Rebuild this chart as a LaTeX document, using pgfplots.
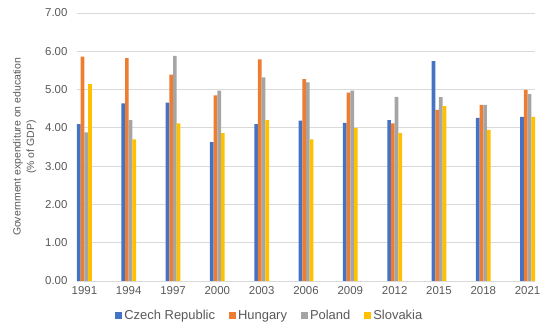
\documentclass[border=0pt]{standalone}
\usepackage{pgfplots}
\pgfplotsset{compat=1.18}
\usepackage{fontspec}
\setmainfont{Liberation Sans}
\definecolor{cz}{HTML}{4472C4}
\definecolor{hu}{HTML}{ED7D31}
\definecolor{pl}{HTML}{A5A5A5}
\definecolor{sk}{HTML}{FFC000}
\definecolor{txt}{HTML}{595959}
\definecolor{grd}{HTML}{D9D9D9}
\begin{document}
\begin{tikzpicture}
\begin{axis}[
  at={(0,0)}, anchor=south west,
  scale only axis, width=458bp, height=268bp,
  xmin=1990.5, xmax=2021.5, ymin=0, ymax=7,
  ybar, bar width=0.25,
  xtick={1991,1994,...,2021},
  ytick={0,1,...,7},
  /pgf/number format/assume math mode=true,
  xticklabel style={/pgf/number format/1000 sep={}, font=\fontsize{11.5}{13}\selectfont, text=txt, yshift=-2bp},
  yticklabel style={/pgf/number format/.cd, fixed, fixed zerofill, precision=2, /tikz/.cd, font=\fontsize{11.5}{13}\selectfont, text=txt, xshift=-6bp},
  ymajorgrids, grid style={grd, line width=0.8pt},
  axis x line*=bottom, axis y line*=left,
  x axis line style={grd, line width=0.8pt, -},
  y axis line style={draw=none},
  major tick length=0pt,
  xtick style={draw=none}, ytick style={draw=none},
  ylabel={Government expenditure on education\\(\% of GDP)},
  ylabel style={align=center, font=\fontsize{10.5}{13.5}\selectfont, text=txt, at={(ticklabel cs:0.5)}, yshift=2bp},
  legend style={at={(0.421,-0.13)}, anchor=center, draw=none, legend columns=4, font=\fontsize{13}{15}\selectfont, text=txt, /tikz/every even column/.append style={column sep=12bp}},
  legend image code/.code={\fill[#1] (0bp,-3.5bp) rectangle (7bp,3.5bp);},
  every axis plot/.append style={draw=none},
]
\addplot[fill=cz, bar shift=-0.375] coordinates {(1991,4.10) (1994,4.64) (1997,4.66) (2000,3.63) (2003,4.10) (2006,4.19) (2009,4.13) (2012,4.20) (2015,5.74) (2018,4.26) (2021,4.29)};
\addplot[fill=hu, bar shift=-0.125] coordinates {(1991,5.86) (1994,5.82) (1997,5.39) (2000,4.85) (2003,5.79) (2006,5.27) (2009,4.92) (2012,4.12) (2015,4.47) (2018,4.60) (2021,4.99)};
\addplot[fill=pl, bar shift=0.125] coordinates {(1991,3.88) (1994,4.20) (1997,5.88) (2000,4.97) (2003,5.32) (2006,5.19) (2009,4.97) (2012,4.81) (2015,4.80) (2018,4.60) (2021,4.88)};
\addplot[fill=sk, bar shift=0.375] coordinates {(1991,5.14) (1994,3.70) (1997,4.12) (2000,3.86) (2003,4.20) (2006,3.70) (2009,4.00) (2012,3.86) (2015,4.57) (2018,3.95) (2021,4.29)};
\legend{Czech Republic, Hungary, Poland, Slovakia}
\end{axis}
\pgfresetboundingbox
\useasboundingbox (-77bp,-47bp) rectangle (473bp,281bp);
\end{tikzpicture}
\end{document}
